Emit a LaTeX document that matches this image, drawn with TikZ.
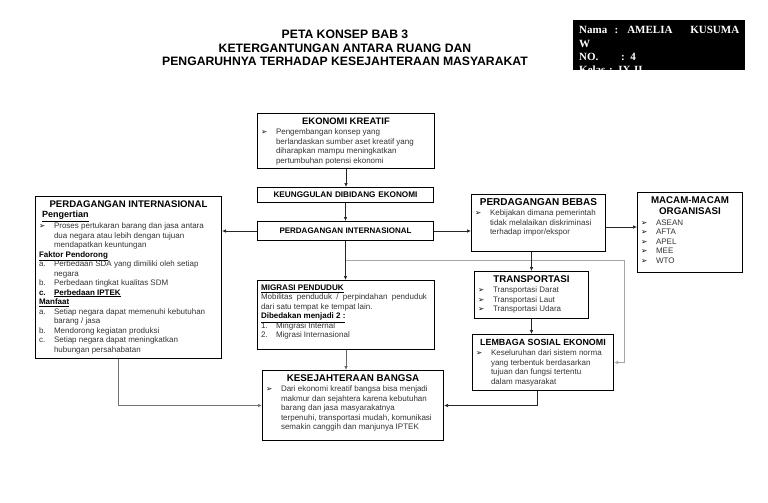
\documentclass[tikz,border=0pt]{standalone}
\usepackage{fontspec}
\usepackage{tikz}
\usepackage{xcolor}
\usetikzlibrary{arrows.meta,calc,positioning}
\setmainfont{Liberation Sans}
\newfontfamily\namafont{Liberation Serif}
\newfontfamily\simbolfont{DejaVu Sans}
\newcommand{\isi}{\fontsize{8}{9.5}\selectfont}
\newcommand{\panah}{{\color{black}\simbolfont\fontsize{7.5}{7.5}\selectfont\char"27A2}}
\newcommand{\isikotak}[3]{\parbox[t][#2][t]{#1}{\raggedright\isi #3}}
\newcommand{\judul}[2][9.5pt]{\par{\centering\color{black}\bfseries\fontsize{#1}{11.5pt}\selectfont\rule{0pt}{9.8pt}#2\par}\vspace{1pt}}
\newcommand{\subjudul}[2][8pt]{\par\noindent{\color{black}\bfseries\fontsize{#1}{9.5pt}\selectfont\underline{#2}}\par}
\newcommand{\butir}[2]{\par\noindent\hangindent=15pt\hangafter=1\makebox[15pt][l]{#1}#2\par}

\begin{document}
\begin{tikzpicture}[
          x=1pt, y=-1pt,
          kotak/.style={draw, line width=1pt, anchor=north west, inner xsep=3.5pt, inner ysep=1pt, font=\isi, text=black!80},
          kotakjudul/.style={draw, line width=1pt, anchor=north west, inner xsep=3.5pt, inner ysep=1pt, align=center, font=\bfseries\fontsize{8}{10}\selectfont},
          garis/.style={-{Latex[length=4pt,width=3.5pt]}, line width=0.7pt, black!85},
          garisabu/.style={garis, black!35}
      ]
        \useasboundingbox (0,0) rectangle (768,503);
        \node[align=center, font=\bfseries\fontsize{12.2}{13.5}\selectfont] (judul) at (345,48)
          {PETA KONSEP BAB 3\\KETERGANTUNGAN ANTARA RUANG DAN\\PENGARUHNYA TERHADAP KESEJAHTERAAN MASYARAKAT};
        \begin{scope}
          \clip (573,20) rectangle (745,70);
          \node[fill=black, text=white, anchor=north west, inner xsep=6pt, inner ysep=6.5pt, text width=160pt, align=left,
                font=\namafont\bfseries\fontsize{11}{13.2}\selectfont] (nama) at (573,20)
            {\makebox[160pt][l]{Nama\ \ :\hspace{9pt}AMELIA\hfill KUSUMA}\\W\\\makebox[42pt][l]{NO.}: 4\\Kelas : IX II};
        \end{scope}
        \node[kotak] (ek) at (257,113)
          {\isikotak{170pt}{53pt}{\judul[9.4pt]{EKONOMI KREATIF}
           \butir{\panah}{Pengembangan konsep yang\newline berlandaskan sumber aset kreatif yang\newline diharapkan mampu meningkatkan\newline pertumbuhan potensi ekonomi}}};
        \node[kotakjudul, text width=169pt, minimum height=15pt, font=\bfseries\fontsize{8.2}{10}\selectfont] (unggul) at (257,187)
          {KEUNGGULAN DIBIDANG EKONOMI};
        \node[kotakjudul, text width=169pt, minimum height=19pt] (pi) at (257,221) {PERDAGANGAN INTERNASIONAL};
        \node[kotak] (pikiri) at (35,196)
          {\isikotak{179pt}{160pt}{\judul[9.6pt]{PERDAGANGAN INTERNASIONAL}
           \par\noindent\hspace{3pt}{\color{black}\bfseries\fontsize{9}{9.5}\selectfont\underline{Pengertian}}\par
           \butir{\panah}{Proses pertukaran barang dan jasa antara\newline dua negara atau lebih dengan tujuan\newline mendapatkan keuntungan}
           \subjudul{Faktor Pendorong}
           \butir{a.}{Perbedaan SDA yang dimiliki oleh setiap\newline negara}
           \butir{b.}{Perbedaan tingkat kualitas SDM}
           \butir{\textbf{\color{black}c.}}{\textbf{\color{black}\underline{Perbedaan IPTEK}}}
           \subjudul{Manfaat}
           \butir{a.}{Setiap negara dapat memenuhi kebutuhan\newline barang / jasa}
           \butir{b.}{Mendorong kegiatan produksi}
           \butir{c.}{Setiap negara dapat meningkatkan\newline hubungan persahabatan}}};
        \node[kotak] (bebas) at (471,194)
          {\isikotak{127pt}{55pt}{\judul[10pt]{PERDAGANGAN BEBAS}
           \butir{\panah}{Kebijakan dimana pemerintah\newline tidak melalaikan diskriminasi\newline terhadap impor/ekspor}}};
        \node[kotak] (org) at (637,192)
          {\isikotak{98pt}{78pt}{\judul[9.75pt]{MACAM-MACAM\\ORGANISASI}
           \butir{\panah}{ASEAN}
           \butir{\panah}{AFTA}
           \butir{\panah}{APEL}
           \butir{\panah}{MEE}
           \butir{\panah}{WTO}}};
        \node[kotak] (migrasi) at (257,280)
          {\isikotak{170pt}{67pt}{\noindent\rule{0pt}{8.8pt}{\color{black}\bfseries\fontsize{8.1}{9.5}\selectfont\underline{MIGRASI PENDUDUK}}\par
           \noindent\makebox[166pt][l]{Mobilitas\hfill penduduk\hfill /\hfill perpindahan\hfill penduduk}\newline dari satu tempat ke tempat lain.
           \subjudul{Dibedakan menjadi 2 :}
           \butir{1.}{Mingrasi Internal}
           \butir{2.}{Migrasi Internasional}}};
        \node[kotak] (trans) at (474,271)
          {\isikotak{107pt}{45pt}{\judul[9.75pt]{TRANSPORTASI}
           \butir{\panah}{Transportasi Darat}
           \butir{\panah}{Transportasi Laut}
           \butir{\panah}{Transportasi Udara}}};
        \node[kotak] (lembaga) at (472,334)
          {\isikotak{134pt}{54pt}{\judul[8.9pt]{LEMBAGA SOSIAL EKONOMI}
           \butir{\panah}{Keseluruhan dari sistem norma\newline yang terbentuk berdasarkan\newline tujuan dan fungsi tertentu\newline dalam masyarakat}}};
        \node[kotak] (sejahtera) at (262,370)
          {\isikotak{174pt}{68pt}{\judul[9.8pt]{KESEJAHTERAAN BANGSA}
           \butir{\panah}{Dari ekonomi kreatif bangsa bisa menjadi\newline makmur dan sejahtera karena kebutuhan\newline barang dan jasa masyarakatnya\newline terpenuhi, transportasi mudah, komunikasi\newline semakin canggih dan manjunya IPTEK}}};
        \coordinate (cabang) at (pi.south |- 0,260);
        \coordinate (sudut) at (624,260);
        \draw[garis] (ek.south) -- (ek.south |- unggul.north);
        \draw[garis] (unggul.south) -- (unggul.south |- pi.north);
        \draw[garis] (pi.west) -- (pi.west -| pikiri.east);
        \draw[garis] (pi.east) -- (pi.east -| bebas.west);
        \draw[garis] ([yshift=-4pt]bebas.east) -- ([yshift=-4pt]bebas.east -| org.west);
        \draw[garis] (pi.south) -- (pi.south |- migrasi.north);
        \draw[garisabu] (cabang) -- (sudut) |- (lembaga.east);
        \draw[garis] (trans.north |- bebas.south) -- (trans.north);
        \draw[garis] (trans.south) -- (trans.south |- lembaga.north);
        \draw[garis] ([xshift=-6pt]lembaga.south) |- (sejahtera.east);
        \draw[garis, black!60] (migrasi.south) -- (migrasi.south |- sejahtera.north);
        \draw[garis, black!55] ([xshift=-10pt]pikiri.south) |- (sejahtera.west);
      \end{tikzpicture}
\end{document}
